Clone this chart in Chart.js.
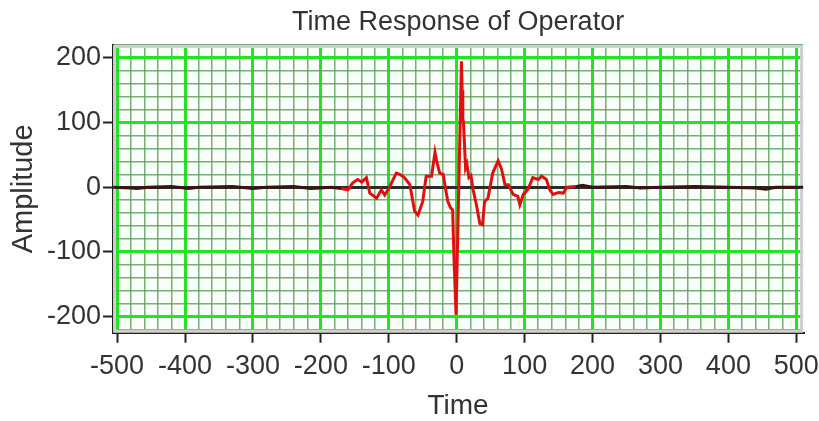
<!DOCTYPE html>
<html>
<head>
<meta charset="utf-8">
<script src="https://cdn.jsdelivr.net/npm/chart.js@4.4.0/dist/chart.umd.min.js"></script>
<style>
  html, body { margin: 0; padding: 0; background: #fff; }
  #wrap { width: 819px; height: 421px; }
</style>
</head>
<body>
<div id="wrap"><canvas id="opChart" width="819" height="421"></canvas></div>
<script>
// time axis samples and the operator amplitude
const times = [-506, -480, -470, -455, -420, -395, -380, -330, -300, -280, -240, -215, -200, -185,
  -170, -160, -153, -146, -140, -133, -128, -118, -111, -106, -99, -89, -84, -77, -69, -62, -57,
  -50, -45, -37, -32, -29, -25, -20, -16, -13, -9, -6, -4, -1, 7, 8, 9, 10, 13, 15, 18, 21, 24,
  29, 34, 38, 41, 46, 53, 61, 66, 71, 76, 83, 90, 93, 98, 105, 112, 120, 125, 132, 137, 142, 150,
  157, 162, 175, 185, 200, 250, 270, 300, 350, 400, 440, 455, 470, 510];
const amplitude = [0, -1, -2, 0, 1, -2, 0, 1, -2, 0, 1, -2, -1, 0,
  -2, -4, 7, 12, 8, 15, -9, -17, -4, -12, 0, 22, 20, 15, 4, -37, -43,
  -22, 17, 17, 54, 38, 22, 20, -5, -22, -32, -35, -110, -197, 195, 150, 105, 100, 30, 36, 15, 18, -3,
  -27, -56, -58, -22, -17, 22, 41, 28, 4, 4, -11, -14, -27, -11, -3, 15, 12, 17, 12, -4, -11, -8,
  -9, 0, 1, 3, 0, 1, -1, 0, 1, 0, -1, -3, 0, 0];

const xMin = -506, xMax = 510;
const yMin = -225, yMax = 220;
const xMajor = 100, yMajor = 100, minorStep = 20;

const points = times.map((t, i) => ({ x: t, y: amplitude[i] }));

const majorGreen = '#22e522';
const minorGreen = 'rgba(95,160,95,0.85)';
const textColor = '#333';
const font = 'Liberation Sans, Arial, sans-serif';

const isMult = (v, m) => Math.abs(v / m - Math.round(v / m)) < 1e-6;

const gridColor = (major, zeroDark) => ctx => {
  const v = ctx.tick ? ctx.tick.value : 0;
  if (zeroDark && v === 0) return '#2a2a2a';
  if (isMult(v, major)) return majorGreen;
  return minorGreen;
};
const gridWidth = major => ctx => {
  const v = ctx.tick ? ctx.tick.value : 0;
  return isMult(v, major) ? 3 : 1.5;
};
const tickColor = major => ctx => {
  const v = ctx.tick ? ctx.tick.value : 0;
  return isMult(v, major) ? '#222' : 'rgba(0,0,0,0)';
};

const plotBg = {
  id: 'plotBg',
  beforeDraw(chart) {
    const { ctx, chartArea: a } = chart;
    ctx.save();
    ctx.fillStyle = '#f8fff8';
    ctx.fillRect(a.left, a.top, a.right - a.left, a.bottom - a.top);
    ctx.restore();
  },
  beforeDatasetsDraw(chart) {
    const { ctx, chartArea: a } = chart;
    ctx.save();
    ctx.strokeStyle = '#cfcfcf';
    ctx.lineWidth = 3;
    ctx.strokeRect(a.left + 1.5, a.top + 1.5, a.right - a.left - 3, a.bottom - a.top - 3);
    ctx.restore();
  }
};

new Chart(document.getElementById('opChart'), {
  type: 'line',
  data: {
    datasets: [{
      label: 'Operator',
      data: points,
      borderColor: '#e01010',
      borderWidth: 3,
      pointRadius: 0,
      fill: false,
      tension: 0,
      segment: {
        borderColor: ctx => (Math.abs(ctx.p0.parsed.x) < 185 && Math.abs(ctx.p1.parsed.x) < 185) ? '#e01010' : '#3a1414'
      }
    }]
  },
  options: {
    responsive: false,
    animation: false,
    layout: { padding: { left: 9, right: 0, top: 0, bottom: 1 } },
    plugins: {
      legend: { display: false },
      tooltip: { enabled: false },
      title: {
        display: true,
        text: 'Time Response of Operator',
        fullSize: false,
        color: textColor,
        font: { family: font, size: 27, weight: 'normal', lineHeight: 1 },
        padding: { top: 9, bottom: 9 }
      }
    },
    scales: {
      x: {
        type: 'linear',
        min: xMin,
        max: xMax,
        ticks: {
          stepSize: minorStep,
          includeBounds: false,
          autoSkip: false,
          maxRotation: 0,
          padding: 0,
          color: textColor,
          font: { family: font, size: 27, lineHeight: 1.75 },
          callback: v => isMult(v, xMajor) ? String(v) : ''
        },
        grid: {
          color: gridColor(xMajor, false),
          lineWidth: gridWidth(xMajor),
          tickColor: tickColor(xMajor),
          tickLength: 10,
          tickWidth: 2
        },
        border: { display: true, color: '#222', width: 2 },
        title: {
          display: true,
          text: 'Time',
          color: textColor,
          font: { family: font, size: 28, lineHeight: 1 },
          padding: { top: 2, bottom: 0 }
        }
      },
      y: {
        type: 'linear',
        min: yMin,
        max: yMax,
        ticks: {
          stepSize: minorStep,
          includeBounds: false,
          autoSkip: false,
          padding: 2,
          color: textColor,
          font: { family: font, size: 27, lineHeight: 1 },
          callback: v => isMult(v, yMajor) ? String(v) : ''
        },
        grid: {
          color: gridColor(yMajor, true),
          lineWidth: gridWidth(yMajor),
          tickColor: tickColor(yMajor),
          tickLength: 10,
          tickWidth: 2
        },
        border: { display: true, color: '#222', width: 2 },
        title: {
          display: true,
          text: 'Amplitude',
          color: textColor,
          font: { family: font, size: 29, lineHeight: 1 },
          padding: { top: 0, bottom: 7 }
        }
      }
    }
  },
  plugins: [plotBg]
});
</script>
</body>
</html>
